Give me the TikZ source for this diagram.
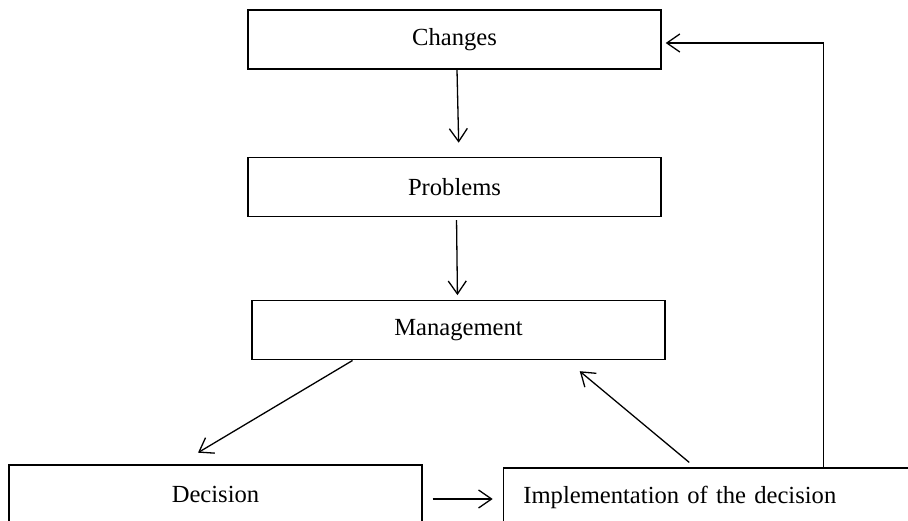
\documentclass[tikz,border=0pt]{standalone}
\usepackage{fontspec}
\setmainfont{Liberation Serif}
\usetikzlibrary{positioning}
\usetikzlibrary{arrows.meta}
\tikzset{>={Straight Barb[length=13pt,width=18pt]}}

\begin{document}
\begin{tikzpicture}[
            x=1pt, y=1pt,
            box/.style={draw, rectangle, line width=1.4pt, minimum width=413pt, minimum height=59pt, inner sep=0pt, font=\fontsize{24.6}{30}\selectfont},
            link/.style={->, line width=1.3pt}
        ]
        \clip (0,0) rectangle (908,-521);
        \node[box] (changes) at (454.5,-39.5) {Changes};
        % problems
        \node[box, below=87pt of changes] (problems) {Problems};
        \draw[link, shorten >=14pt] ([xshift=2.5pt]changes.south) -- ([xshift=4.5pt]problems.north);
        % management
        \node[box, below=83pt of problems, xshift=4pt] (management) {Management};
        \draw[link, shorten <=3pt, shorten >=5pt] ([xshift=2pt]problems.south) -- ([xshift=-1pt]management.north);
        % decision
        \node[box] (decision) at (215.5,-494.5) {Decision};
        \draw[link, shorten >=22.7pt] ([xshift=-106pt]management.south) -- ([xshift=-37pt]decision.north);
        % implementation
        \node[box, right=80pt of decision, yshift=-3pt, text width=373pt, inner xsep=20pt, align=left] (implementation) {Implementation of the decision};
        \draw[link, shorten <=10pt, shorten >=10pt] ([yshift=-4.5pt]decision.east) -- ([yshift=-1.5pt]implementation.west);
        \draw[link, shorten <=7.6pt, shorten >=16.7pt] ([xshift=-14.8pt]implementation.north) -- ([xshift=108.4pt]management.south);
        % feedback
        \draw[link, shorten >=4pt] ([xshift=113.5pt]implementation.north) |- ([yshift=-3.5pt]changes.east);
        \end{tikzpicture}
\end{document}
